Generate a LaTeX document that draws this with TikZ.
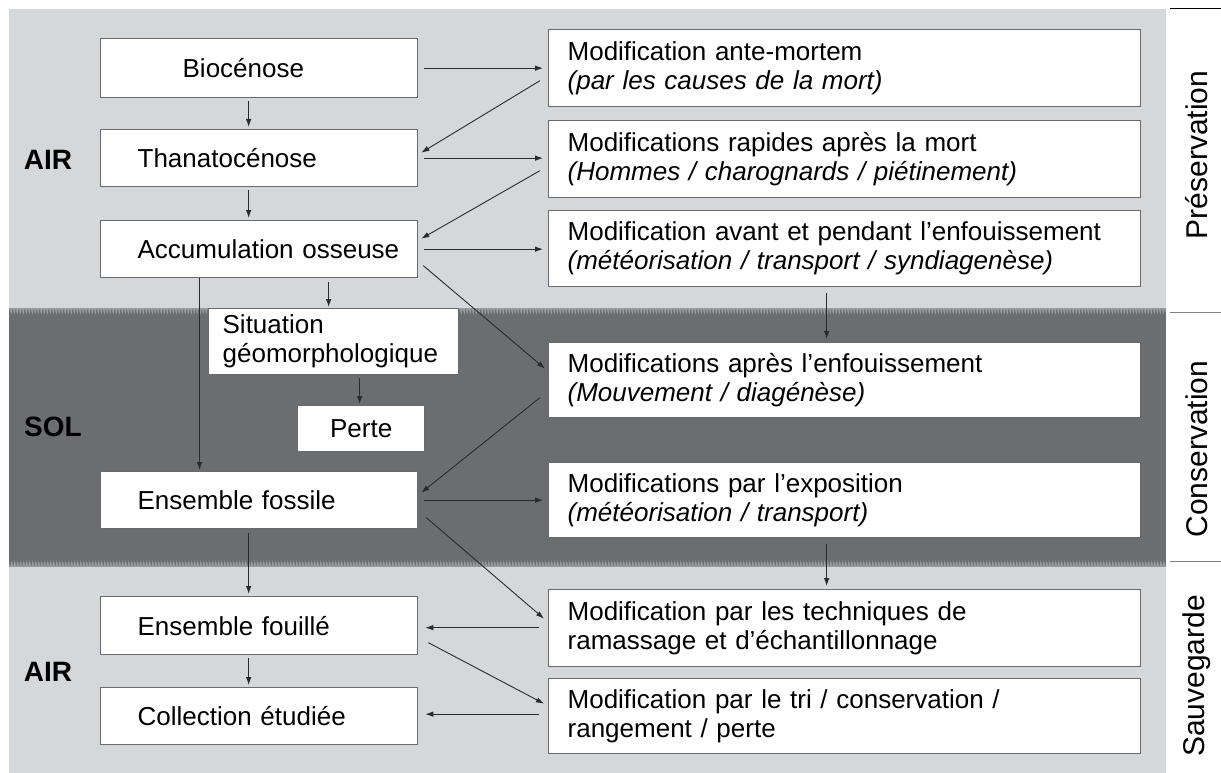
\documentclass[tikz,border=0pt]{standalone}
\usepackage{fontspec}
\setmainfont{Liberation Sans}
\usetikzlibrary{arrows.meta,decorations.pathmorphing}
\definecolor{lightbg}{HTML}{D5D8DA}
\definecolor{darkbg}{HTML}{6B6E71}
\definecolor{edgec}{HTML}{9A9DA0}
\definecolor{boxline}{HTML}{6A6A6A}
\definecolor{arrc}{HTML}{2A2A2A}
\newcommand\dfont{\fontsize{26}{29}\selectfont\hyphenpenalty=10000 }
\newcommand\zfont{\fontsize{28}{30}\selectfont\bfseries}
\newcommand\vfont{\fontsize{30}{32}\selectfont}
\newcommand\ind[1]{\hspace*{#1pt}}
\begin{document}
\begin{tikzpicture}[x=1pt,y=-1pt,
  lbox/.style={draw=boxline, line width=1.3pt, fill=white, anchor=north west,
    minimum height=#1, align=left, inner ysep=0pt, inner xsep=0pt,
    text width=317pt, font=\dfont, text=black},
  lbox/.default=57pt,
  rbox/.style={draw=boxline, line width=1.3pt, fill=white, anchor=north west,
    minimum height=#1, align=left, inner ysep=0pt, inner xsep=19pt,
    text width=554pt, font=\dfont, text=black},
  rbox/.default=77pt,
  arr/.style={draw=arrc, line width=0.9pt, -{Latex[length=8pt,width=5.5pt]}},
  zone/.style={font=\zfont, text=black},
  phase/.style={font=\vfont, rotate=90, text=black}]
\useasboundingbox (0,0) rectangle (1221,773);
\fill[white] (0,0) rectangle (1221,773);
% backgrounds
\fill[lightbg] (9,9) rectangle (1166,773);
\fill[edgec] (9,308) rectangle (1166,567);
\fill[darkbg] (9,312) decorate[decoration={zigzag,amplitude=3.5pt,segment length=3pt}]{-- (1166,312)}
  -- (1166,563) decorate[decoration={zigzag,amplitude=3.5pt,segment length=3pt}]{-- (9,563)} -- cycle;
% right column
\fill[white] (1166,0) rectangle (1221,773);
\draw[black, line width=1pt] (1170,9) -- (1221,9);
\draw[gray, line width=1pt] (1170,312) -- (1221,312);
\draw[gray, line width=1pt] (1170,561) -- (1221,561);
\node[phase] (pres) at (1197,155) {Préservation};
\node[phase] (cons) at (1197,449) {Conservation};
\node[phase] (sauv) at (1197,676) {Sauvegarde};
% zone labels
\node[zone] (air1) at (48,160) {AIR};
\node[zone] (sol) at (53,427) {SOL};
\node[zone] (air2) at (48,672) {AIR};
% left boxes
\node[lbox=59pt] (bio) at (100,38) {\ind{82}Biocénose};
\node[lbox] (tha) at (100,129) {\ind{37}Thanatocénose};
\node[lbox] (acc) at (100,220) {\ind{37}Accumulation osseuse};
\node[lbox=66pt, inner xsep=14pt, text width=222pt] (sit) at (208,308) {Situation\\géomorphologique};
\node[lbox=46pt, text width=127pt, align=center] (per) at (297,405) {Perte};
\node[lbox] (fos) at (100,471) {\ind{37}Ensemble fossile};
\node[lbox=58pt] (fou) at (100,596) {\ind{37}Ensemble fouillé};
\node[lbox] (col) at (100,687) {\ind{37}Collection étudiée};
% right boxes
\node[rbox] (am) at (548,29) {Modification ante-mortem\\\textit{(par les causes de la mort)}};
\node[rbox] (rap) at (548,120) {Modifications rapides après la mort\\\textit{(Hommes / charognards / piétinement)}};
\node[rbox=76pt] (ava) at (548,210) {Modification avant et pendant l’enfouissement\\\textit{(météorisation / transport / syndiagenèse)}};
\node[rbox=75pt] (apr) at (548,342) {Modifications après l’enfouissement\\\textit{(Mouvement / diagénèse)}};
\node[rbox=75pt] (exp) at (548,462) {Modifications par l’exposition\\\textit{(météorisation / transport)}};
\node[rbox] (tec) at (548,589) {Modification par les techniques de\\ramassage et d’échantillonnage};
\node[rbox=75pt] (tri) at (548,678) {Modification par le tri / conservation /\\rangement / perte};
% vertical arrows
\draw[arr] ([xshift=-10.5pt,yshift=-3pt]bio.south) -- ([xshift=-10.5pt,yshift=2pt]tha.north);
\draw[arr] ([xshift=-10.5pt,yshift=-3pt]tha.south) -- ([xshift=-10.5pt,yshift=2pt]acc.north);
\draw[arr] ([xshift=-5pt,yshift=-4pt]sit.north |- acc.south) -- ([xshift=-5pt,yshift=1pt]sit.north);
\draw[arr] ([xshift=-59.5pt]acc.south) -- ([xshift=-59.5pt,yshift=1pt]fos.north);
\draw[arr] ([xshift=-1.5pt,yshift=-3pt]per.north |- sit.south) -- ([xshift=-1.5pt,yshift=1pt]per.north);
\draw[arr] ([xshift=-10.5pt,yshift=-4pt]fos.south) -- ([xshift=-10.5pt,yshift=2pt]fou.north);
\draw[arr] ([xshift=-10.5pt,yshift=-3pt]fou.south) -- ([xshift=-10.5pt,yshift=2pt]col.north);
\draw[arr] ([xshift=-18pt,yshift=-6pt]ava.south) -- ([xshift=-18pt,yshift=3pt]apr.north);
\draw[arr] ([xshift=-18pt,yshift=-6pt]exp.south) -- ([xshift=-18pt,yshift=3pt]tec.north);
% horizontal arrows
\draw[arr] ([xshift=6pt]bio.east) -- ([xshift=-5pt]am.west |- bio.east);
\draw[arr] ([xshift=6pt]tha.east) -- ([xshift=-5pt]rap.west |- tha.east);
\draw[arr] ([xshift=6pt]acc.east) -- ([xshift=-5pt]ava.west |- acc.east);
\draw[arr] ([xshift=6pt]fos.east) -- ([xshift=-5pt]exp.west |- fos.east);
\draw[arr] ([xshift=-9pt,yshift=-2pt]tec.west |- fou.east) -- ([xshift=7pt,yshift=-2pt]fou.east);
\draw[arr] ([xshift=-9pt,yshift=2pt]tri.west |- col.east) -- ([xshift=7pt,yshift=2pt]col.east);
% diagonal arrows
\draw[arr] ([shift={(-8,12.5)}]am.west) -- ([shift={(3,-5.5)}]tha.east);
\draw[arr] ([shift={(-8,11.5)}]rap.west) -- ([shift={(3,-10.5)}]acc.east);
\draw[arr] ([shift={(5,16.5)}]acc.east) -- ([shift={(-3,-11.5)}]apr.west);
\draw[arr] ([shift={(-8,17.5)}]apr.west) -- ([shift={(3,-7.5)}]fos.east);
\draw[arr] ([shift={(8,17.5)}]fos.east) -- ([shift={(-4,-9.5)}]tec.west);
\draw[arr] ([shift={(10,17)}]fou.east) -- ([shift={(-4,-12.5)}]tri.west);
\end{tikzpicture}
\end{document}
